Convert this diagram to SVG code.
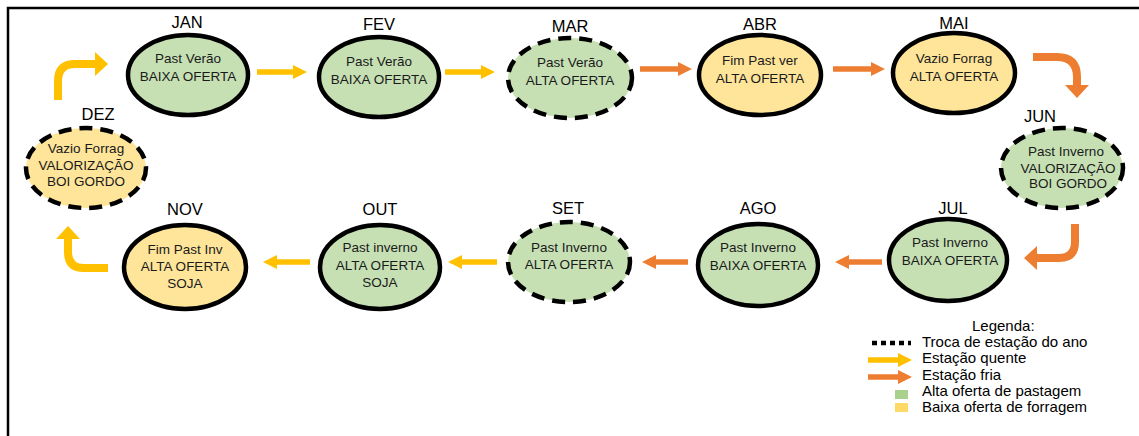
<svg xmlns="http://www.w3.org/2000/svg" width="1139" height="436" viewBox="0 0 1139 436">
  <defs>
    <style>
      .bg { fill: #ffffff; }
      .frame { fill: none; stroke: #000; stroke-width: 2.5; }
      .node { stroke: #000; stroke-width: 4.5; }
      .dashed { stroke-dasharray: 13 8; }
      .green { fill: #c6e0b4; }
      .yellow { fill: #fee59a; }
      .month { font-family: "Liberation Sans", Arial, sans-serif; font-size: 16.5px; fill: #000; text-anchor: middle; }
      .inner { font-family: "Liberation Sans", Arial, sans-serif; font-size: 13.5px; fill: #1a1a1a; text-anchor: middle; }
      .legend { font-family: "Liberation Sans", Arial, sans-serif; font-size: 15px; fill: #000; }
      .warm { fill: none; stroke: #ffc000; stroke-width: 5.5; }
      .cold { fill: none; stroke: #ed7d31; stroke-width: 5.5; }
      .warm-c { fill: none; stroke: #ffc000; stroke-width: 8; }
      .cold-c { fill: none; stroke: #ed7d31; stroke-width: 8; }
    </style>
    <marker id="hw" markerUnits="userSpaceOnUse" markerWidth="14" markerHeight="14" viewBox="0 0 14 14" refX="1" refY="7" orient="auto">
      <path d="M0,0 L14,7 L0,14 z" fill="#ffc000"/>
    </marker>
    <marker id="hc" markerUnits="userSpaceOnUse" markerWidth="14" markerHeight="14" viewBox="0 0 14 14" refX="1" refY="7" orient="auto">
      <path d="M0,0 L14,7 L0,14 z" fill="#ed7d31"/>
    </marker>
    <marker id="hwL" markerUnits="userSpaceOnUse" markerWidth="13" markerHeight="24" viewBox="0 0 13 24" refX="1" refY="12" orient="auto">
      <path d="M0,0 L13,12 L0,24 z" fill="#ffc000"/>
    </marker>
    <marker id="hcL" markerUnits="userSpaceOnUse" markerWidth="13" markerHeight="24" viewBox="0 0 13 24" refX="1" refY="12" orient="auto">
      <path d="M0,0 L13,12 L0,24 z" fill="#ed7d31"/>
    </marker>
  </defs>

  <rect class="bg" x="0" y="0" width="1139" height="436"/>
  <path class="frame" d="M8,440 V8 H1145"/>

  <!-- connectors -->
  <g id="connectors">
    <line class="warm" x1="257" y1="72" x2="294" y2="72" marker-end="url(#hw)"/>
    <line class="warm" x1="445" y1="72" x2="482" y2="72" marker-end="url(#hw)"/>
    <line class="cold" x1="640" y1="69" x2="679" y2="69" marker-end="url(#hc)"/>
    <line class="cold" x1="833" y1="69" x2="872" y2="69" marker-end="url(#hc)"/>
    <path class="cold-c" d="M1033,57 H1057 Q1077,57 1077,77 V86" marker-end="url(#hcL)"/>
    <path class="cold-c" d="M1075,224 V242 Q1075,258 1059,258 H1036" marker-end="url(#hcL)"/>
    <line class="cold" x1="882" y1="262" x2="848" y2="262" marker-end="url(#hc)"/>
    <line class="cold" x1="688" y1="262" x2="655" y2="262" marker-end="url(#hc)"/>
    <line class="warm" x1="497" y1="262" x2="461" y2="262" marker-end="url(#hw)"/>
    <line class="warm" x1="310" y1="262" x2="276" y2="262" marker-end="url(#hw)"/>
    <path class="warm-c" d="M108,268 H84 Q68,268 68,252 V238" marker-end="url(#hwL)"/>
    <path class="warm-c" d="M58,100 V81 Q58,64 75,64 H96" marker-end="url(#hwL)"/>
  </g>

  <!-- months -->
  <g id="jan">
    <ellipse class="node green" cx="188" cy="75" rx="60" ry="40"/>
    <text class="month" x="187" y="28">JAN</text>
    <text class="inner" x="188" y="63">Past Verão</text>
    <text class="inner" x="188" y="81">BAIXA OFERTA</text>
  </g>
  <g id="fev">
    <ellipse class="node green" cx="379" cy="77" rx="60" ry="40"/>
    <text class="month" x="379" y="30">FEV</text>
    <text class="inner" x="379" y="66">Past Verão</text>
    <text class="inner" x="379" y="84">BAIXA OFERTA</text>
  </g>
  <g id="mar">
    <ellipse class="node green dashed" cx="570" cy="78" rx="62" ry="40"/>
    <text class="month" x="570" y="32">MAR</text>
    <text class="inner" x="570" y="67">Past Verão</text>
    <text class="inner" x="570" y="85">ALTA OFERTA</text>
  </g>
  <g id="abr">
    <ellipse class="node yellow" cx="760" cy="75" rx="61" ry="40"/>
    <text class="month" x="760" y="30">ABR</text>
    <text class="inner" x="760" y="65">Fim Past ver</text>
    <text class="inner" x="760" y="83">ALTA OFERTA</text>
  </g>
  <g id="mai">
    <ellipse class="node yellow" cx="954" cy="73" rx="61" ry="40"/>
    <text class="month" x="954" y="29">MAI</text>
    <text class="inner" x="954" y="63">Vazio Forrag</text>
    <text class="inner" x="954" y="81">ALTA OFERTA</text>
  </g>
  <g id="jun">
    <ellipse class="node green dashed" cx="1062" cy="168" rx="61" ry="40"/>
    <text class="month" x="1040" y="122">JUN</text>
    <text class="inner" x="1066" y="156">Past Inverno</text>
    <text class="inner" x="1068" y="173">VALORIZAÇÃO</text>
    <text class="inner" x="1068" y="188">BOI GORDO</text>
  </g>
  <g id="jul">
    <ellipse class="node green" cx="948" cy="260" rx="59" ry="41"/>
    <text class="month" x="953" y="214">JUL</text>
    <text class="inner" x="950" y="247">Past Inverno</text>
    <text class="inner" x="950" y="265">BAIXA OFERTA</text>
  </g>
  <g id="ago">
    <ellipse class="node green" cx="758" cy="265" rx="60" ry="41"/>
    <text class="month" x="758" y="214">AGO</text>
    <text class="inner" x="758" y="252">Past Inverno</text>
    <text class="inner" x="758" y="270">BAIXA OFERTA</text>
  </g>
  <g id="set">
    <ellipse class="node green dashed" cx="569" cy="262" rx="61" ry="40"/>
    <text class="month" x="568" y="214">SET</text>
    <text class="inner" x="569" y="252">Past Inverno</text>
    <text class="inner" x="569" y="269">ALTA OFERTA</text>
  </g>
  <g id="out">
    <ellipse class="node green" cx="380" cy="267" rx="60" ry="42"/>
    <text class="month" x="380" y="215">OUT</text>
    <text class="inner" x="380" y="252">Past inverno</text>
    <text class="inner" x="380" y="270">ALTA OFERTA</text>
    <text class="inner" x="380" y="287">SOJA</text>
  </g>
  <g id="nov">
    <ellipse class="node yellow" cx="185" cy="267" rx="61" ry="42"/>
    <text class="month" x="185" y="215">NOV</text>
    <text class="inner" x="185" y="254">Fim Past Inv</text>
    <text class="inner" x="185" y="271">ALTA OFERTA</text>
    <text class="inner" x="185" y="288">SOJA</text>
  </g>
  <g id="dez">
    <ellipse class="node yellow dashed" cx="86" cy="168" rx="60" ry="40"/>
    <text class="month" x="98" y="120">DEZ</text>
    <text class="inner" x="86" y="153">Vazio Forrag</text>
    <text class="inner" x="86" y="170">VALORIZAÇÃO</text>
    <text class="inner" x="86" y="186">BOI GORDO</text>
  </g>

  <!-- legend -->
  <g id="legend">
    <text class="legend" x="972" y="331">Legenda:</text>
    <line x1="872" y1="343" x2="911" y2="343" stroke="#000" stroke-width="4.5" stroke-dasharray="5 4"/>
    <text class="legend" x="922" y="347">Troca de estação do ano</text>
    <line class="warm" x1="868" y1="360" x2="899" y2="360" stroke-width="5" marker-end="url(#hw)"/>
    <text class="legend" x="922" y="363">Estação quente</text>
    <line class="cold" x1="868" y1="377" x2="899" y2="377" stroke-width="5" marker-end="url(#hc)"/>
    <text class="legend" x="922" y="380">Estação fria</text>
    <rect x="895" y="390" width="13" height="9" fill="#a9d18e"/>
    <text class="legend" x="922" y="396">Alta oferta de pastagem</text>
    <rect x="895" y="403" width="13" height="9" fill="#ffd966"/>
    <text class="legend" x="922" y="412">Baixa oferta de forragem</text>
  </g>
</svg>
